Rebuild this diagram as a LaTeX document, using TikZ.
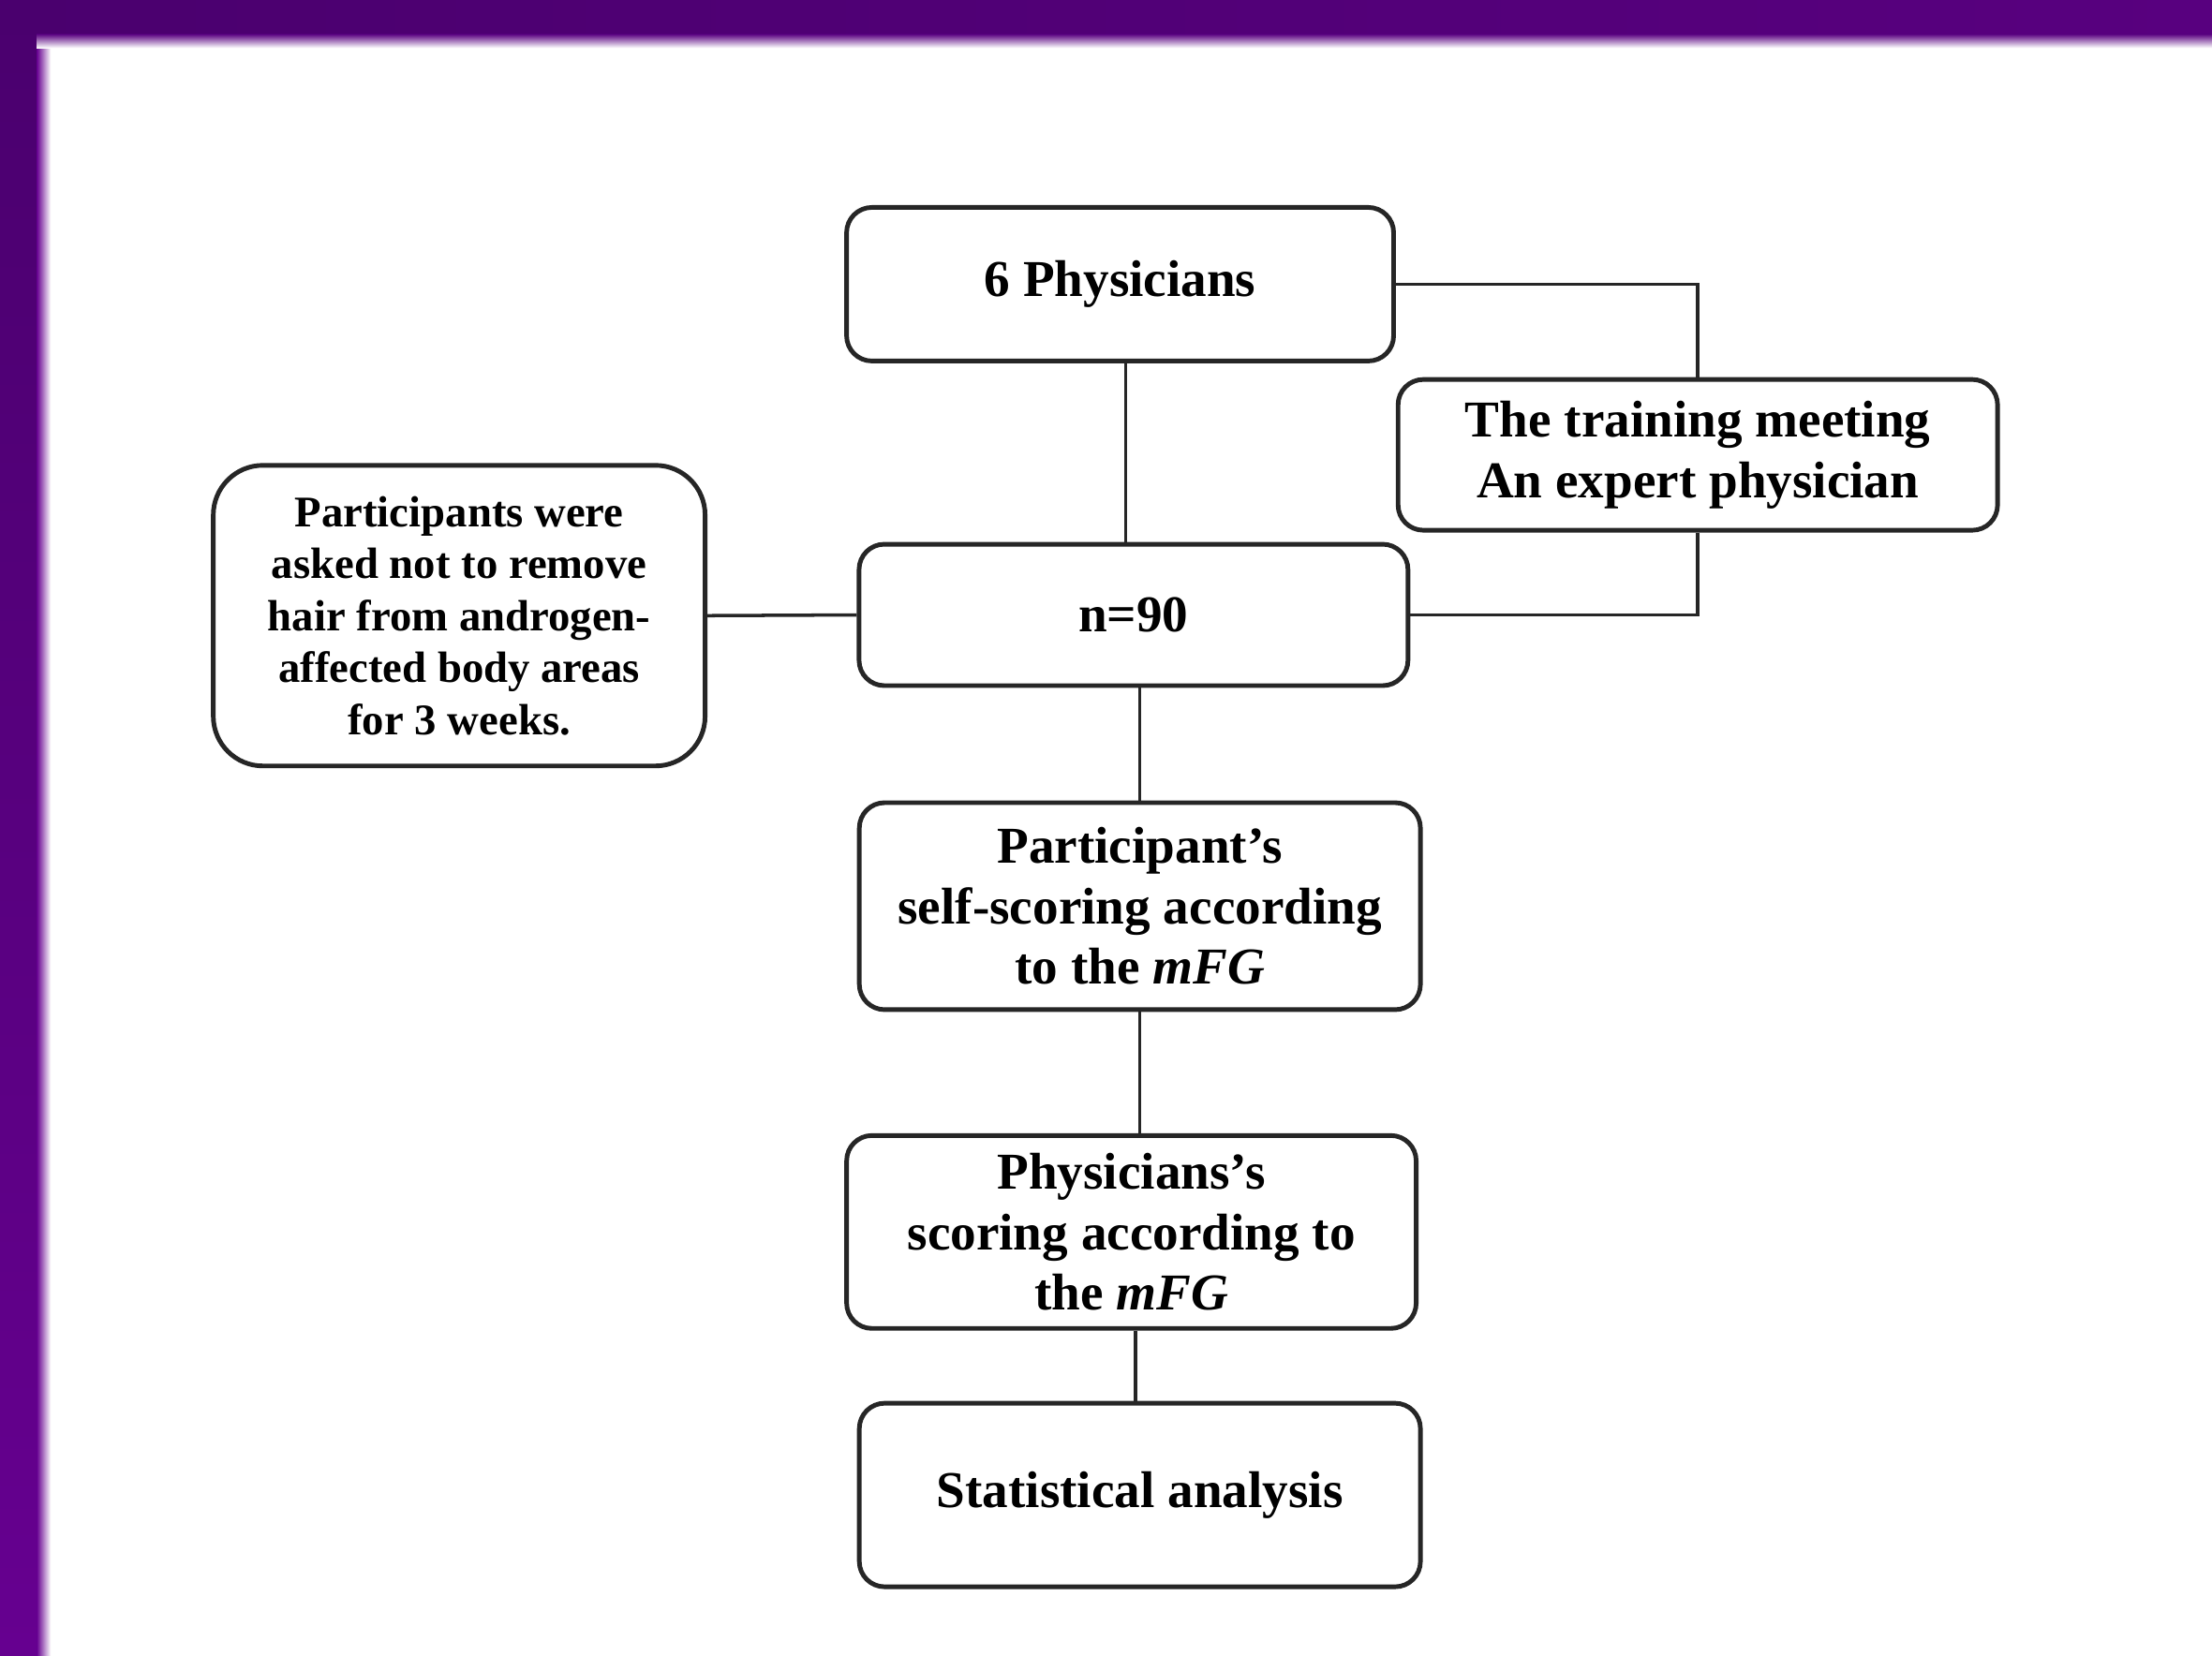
\documentclass[tikz,border=0pt]{standalone}
\usepackage{fontspec}
\setmainfont{Liberation Serif}
\definecolor{purpA}{HTML}{4A006E}
\definecolor{purpB}{HTML}{660090}
\definecolor{purpC}{HTML}{58007F}
\tikzset{
  box/.style={draw=black!85, line width=1.4pt, fill=white, rounded corners=0.27cm, align=center,
    font=\bfseries\fontsize{15.7}{18.4}\selectfont, inner sep=2pt},
  bigbox/.style={box, rounded corners=0.53cm, font=\bfseries\fontsize{13.3}{15.8}\selectfont},
  link/.style={draw=black!85, line width=1pt}
}
\begin{document}
\begin{tikzpicture}[x=0.015057cm, y=-0.015057cm]
\useasboundingbox (0,0) rectangle (1568,1174);
\fill[white] (0,0) rectangle (1568,1174);
% purple frame
\shade[top color=purpA, bottom color=purpB] (0,0) rectangle (26,1174);
\shade[left color=purpA, right color=purpC] (0,0) rectangle (1568,24);
\shade[left color=purpB, right color=white] (26,24) rectangle (36,1174);
\shade[top color=purpC, bottom color=white] (26,24) rectangle (1568,34);
% nodes
\node[box, minimum width=5.84cm, minimum height=1.64cm] (phys) at (794,201.5) {6 Physicians};
\node[box, minimum width=6.40cm, minimum height=1.61cm] (train) at (1203.5,322.5) {The training meeting\\An expert physician};
\node[box, minimum width=5.86cm, minimum height=1.51cm] (n90) at (803.5,436) {n=90};
\node[bigbox, minimum width=5.25cm, minimum height=3.21cm] (part) at (325.5,436.5) {Participants were\\asked not to remove\\hair from androgen-\\affected body areas\\for 3 weeks.};
\node[box, minimum width=5.99cm, minimum height=2.21cm] (self) at (808,642.5) {Participant’s\\self-scoring according\\to the \textit{mFG}};
\node[box, minimum width=6.08cm, minimum height=2.06cm] (physc) at (802,873.5) {Physicians’s\\scoring according to\\the \textit{mFG}};
\node[box, minimum width=5.99cm, minimum height=1.96cm] (stat) at (808,1060) {Statistical analysis};
% helper coordinates
\coordinate (xa) at (798,0);
\coordinate (xb) at (808,0);
\coordinate (xc) at (805,0);
% connectors
\draw[link] (phys.south -| xa) -- (n90.north -| xa);
\draw[link] (phys.east) -| (train.north);
\draw[link] (train.south) |- (n90.east);
\draw[link] (part.east) -- (n90.west);
\draw[link] (n90.south -| xb) -- (self.north -| xb);
\draw[link] (self.south -| xb) -- (physc.north -| xb);
\draw[link] (physc.south -| xc) -- (stat.north -| xc);
\end{tikzpicture}
\end{document}
